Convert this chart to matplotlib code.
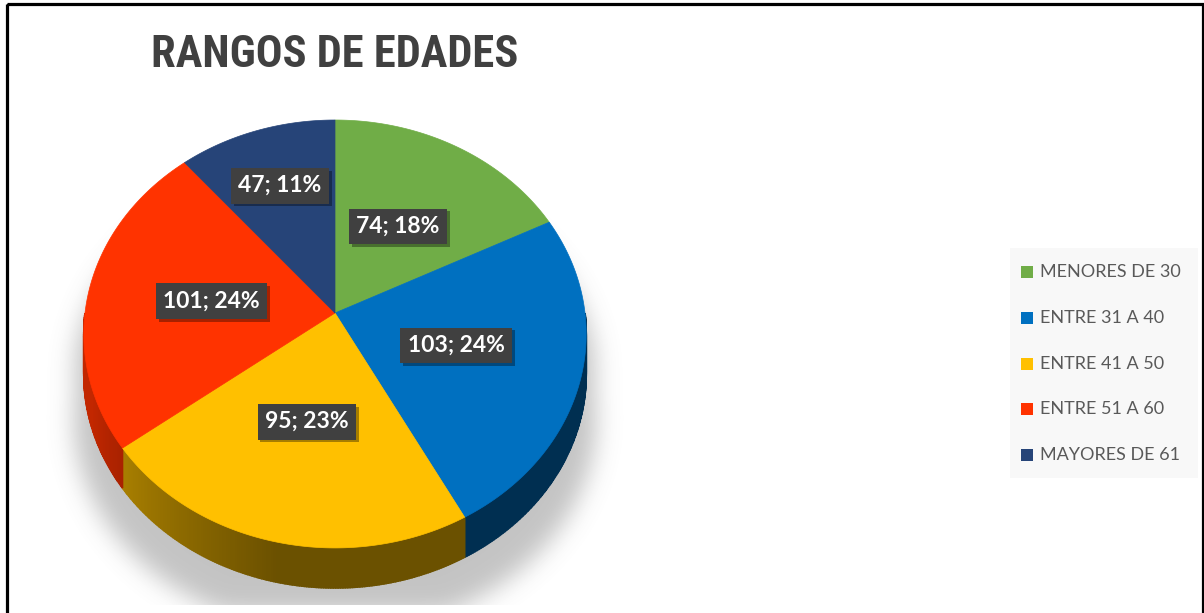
import numpy as np
import matplotlib
matplotlib.use("Agg")
import matplotlib.pyplot as plt
from matplotlib.patches import Polygon, Rectangle
from matplotlib.path import Path
from matplotlib import font_manager
import matplotlib.patheffects as pe

# ---------------- data ----------------
categories = ["MENORES DE 30", "ENTRE 31 A 40", "ENTRE 41 A 50", "ENTRE 51 A 60", "MAYORES DE 61"]
values = [74, 103, 95, 101, 47]
percents = [18, 24, 23, 24, 11]
colors = ["#70AD47", "#0070C0", "#FFC000", "#FF3300", "#264478"]
title = "RANGOS DE EDADES"

# ---------------- style / geometry ----------------
W, H = 1204, 613
CX, CY = 335.0, 313.0     # pie centre (px)
RX, RY = 250.0, 211.9     # radii
B = 0.098                 # perspective factor
DEPTH = 40.0              # side thickness
LABEL_R = [0.5, 0.5, 0.5, 0.5, 0.68]
FONT = "Lato"


def available(name):
    try:
        font_manager.findfont(font_manager.FontProperties(family=name), fallback_to_default=False)
        return True
    except Exception:
        return False


TITLE_FONT = FONT
for cand in ["Roboto Condensed", "Open Sans Condensed", "DejaVu Sans Condensed",
             "Liberation Sans Narrow", "Noto Sans Condensed"]:
    if available(cand):
        TITLE_FONT = cand
        break

fig = plt.figure(figsize=(W / 100, H / 100), dpi=100)
ax = fig.add_axes([0, 0, 1, 1])
ax.set_xlim(0, W)
ax.set_ylim(H, 0)
ax.axis("off")


def proj(r, th):
    u = r * np.cos(th)
    v = -r * np.sin(th)
    d = 1 - B * v
    return CX + RX * u / d, CY + RY * v / d


def shade(thdeg):
    t = ((thdeg + 180) % 360) - 180  # in (-180,180]
    s = 0.42 + (-102 - t) / 41.0 * 0.24
    return float(np.clip(s, 0.42, 0.76))


# ---------------- shadow ----------------
th = np.linspace(0, 2 * np.pi, 720)
sx, sy = proj(1.0, th)
sy = np.where(np.sin(th) < 0, sy + DEPTH, sy)
sx = CX + (sx - CX) * 1.04
sy = sy + 45
sil = Path(np.column_stack([sx, sy]))
gx = np.arange(0, 720)
gy = np.arange(0, H)
GX, GY = np.meshgrid(gx + 0.5, gy + 0.5)
mask = sil.contains_points(np.column_stack([GX.ravel(), GY.ravel()])).reshape(GX.shape).astype(float)
sig = 12
k = np.arange(-3 * sig, 3 * sig + 1)
ker = np.exp(-0.5 * (k / sig) ** 2)
ker /= ker.sum()
mask = np.apply_along_axis(lambda m: np.convolve(m, ker, mode="same"), 0, mask)
mask = np.apply_along_axis(lambda m: np.convolve(m, ker, mode="same"), 1, mask)
mask[gy > 604, :] = 0
img = np.zeros(mask.shape + (4,))
img[..., :3] = 0.45
img[..., 3] = mask * 0.42
ax.imshow(img, extent=(0, 720, H, 0), zorder=1, interpolation="bilinear")
ax.set_xlim(0, W)
ax.set_ylim(H, 0)

# ---------------- slices ----------------
total = float(sum(values))
cum = np.concatenate([[0], np.cumsum(values)])
starts = 90 - 360 * cum[:-1] / total
ends = 90 - 360 * cum[1:] / total

# sides
for i in range(len(values)):
    a0, a1 = starts[i], ends[i]
    n = max(int(abs(a0 - a1)), 2) * 2
    angs = np.linspace(a0, a1, n + 1)
    base = np.array(matplotlib.colors.to_rgb(colors[i]))
    for j in range(n):
        m = 0.5 * (angs[j] + angs[j + 1])
        if np.sin(np.radians(m)) >= 0:
            continue
        t0, t1 = np.radians(angs[j]), np.radians(angs[j + 1])
        x0, y0 = proj(1.0, t0)
        x1, y1 = proj(1.0, t1)
        c = base * shade(m)
        ax.add_patch(Polygon([[x0, y0], [x1, y1], [x1, y1 + DEPTH], [x0, y0 + DEPTH]],
                             closed=True, facecolor=c, edgecolor=c, lw=1.2, zorder=2))

# tops
for i in range(len(values)):
    angs = np.radians(np.linspace(starts[i], ends[i], 200))
    px, py = proj(1.0, angs)
    pts = np.vstack([[CX, CY], np.column_stack([px, py])])
    ax.add_patch(Polygon(pts, closed=True, facecolor=colors[i], edgecolor=colors[i], lw=0.5, zorder=3))

# labels
for i in range(len(values)):
    mid = np.radians(0.5 * (starts[i] + ends[i]))
    lx, ly = proj(LABEL_R[i], mid)
    t = ax.text(lx, ly, f"{values[i]}; {percents[i]}%", ha="center", va="center",
                color="white", fontsize=16.5, fontweight="bold", family=FONT, zorder=5,
                bbox=dict(boxstyle="square,pad=0.32", facecolor="#404040", edgecolor="none"))
    t.get_bbox_patch().set_path_effects([pe.withSimplePatchShadow(offset=(2, -2), shadow_rgbFace="black", alpha=0.35)])

# ---------------- title ----------------
ttl = ax.text(335, 55, title, ha="center", va="center", fontsize=32, fontweight="bold",
              color="#404040", family=TITLE_FONT, zorder=6)
renderer = fig.canvas.get_renderer()
wpx = ttl.get_window_extent(renderer).width
target = 366.0
if wpx > target * 1.03:
    ttl.set_fontsize(max(32 * target / wpx, 28.0))

# ---------------- legend ----------------
ax.add_patch(Rectangle((1010, 248), 188, 230, facecolor="#F8F8F8", edgecolor="none", zorder=1))
for i, cat in enumerate(categories):
    yc = 272 + i * 45.8
    ax.add_patch(Rectangle((1021, yc - 6), 12, 12, facecolor=colors[i], edgecolor="none", zorder=3))
    ax.text(1040, yc, cat, ha="left", va="center", fontsize=13, color="#595959",
            family=FONT, zorder=3)

# ---------------- border ----------------
ax.add_patch(Rectangle((6.5, 3.5), 1196, 640, facecolor="none", edgecolor="black",
                       lw=2.3, zorder=10, clip_on=False))

fig.savefig("out.png", dpi=100)
